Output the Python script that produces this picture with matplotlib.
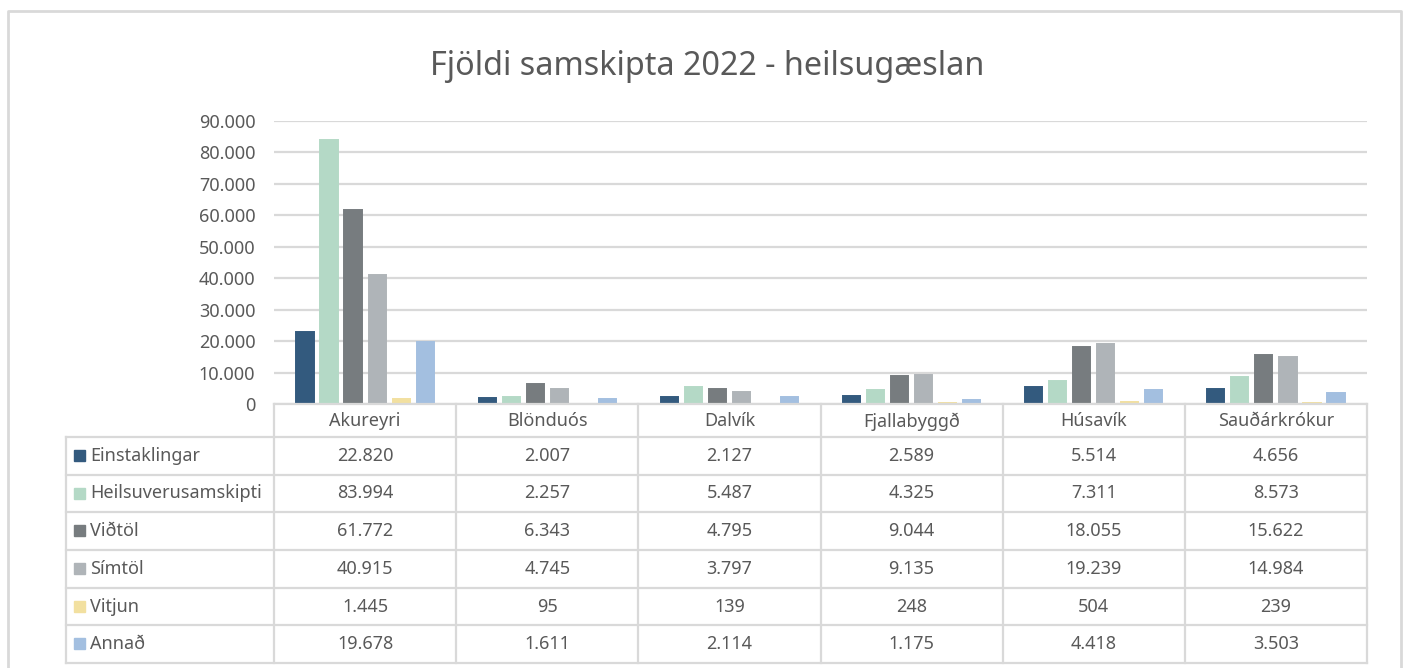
import matplotlib.pyplot as plt
from matplotlib.patches import Rectangle
import numpy as np

plt.rcParams['font.family'] = ['Noto Sans', 'DejaVu Sans']

# gögn
stadir = ['Akureyri', 'Blönduós', 'Dalvík', 'Fjallabyggð', 'Húsavík', 'Sauðárkrókur']
flokkar = ['Einstaklingar', 'Heilsuverusamskipti', 'Viðtöl', 'Símtöl', 'Vitjun', 'Annað']
einstaklingar = [22820, 2007, 2127, 2589, 5514, 4656]
heilsuvera = [83994, 2257, 5487, 4325, 7311, 8573]
vidtol = [61772, 6343, 4795, 9044, 18055, 15622]
simtol = [40915, 4745, 3797, 9135, 19239, 14984]
vitjun = [1445, 95, 139, 248, 504, 239]
annad = [19678, 1611, 2114, 1175, 4418, 3503]
gildi = [einstaklingar, heilsuvera, vidtol, simtol, vitjun, annad]
litir = ['#335A7E', '#B4D9C6', '#777C7F', '#AFB4B8', '#F2E0A0', '#A3BFE0']

grar = '#595959'
linur = '#D9D9D9'

W, H = 1405, 668
fig = plt.figure(figsize=(W / 100, H / 100), dpi=100)

x0, x1 = 274, 1367
ytop, y0 = 121, 404
ax = fig.add_axes([x0 / W, 1 - y0 / H, (x1 - x0) / W, (y0 - ytop) / H])

x = np.arange(len(stadir))
bw = 0.094
step = 0.132
for i, (nafn, vals) in enumerate(zip(flokkar, gildi)):
    # kantur í sama lit svo litlu súlurnar sjáist
    ax.bar(x + (i - 2.5) * step, vals, bw, color=litir[i], edgecolor=litir[i],
           linewidth=1.4, zorder=3)

ax.set_xlim(-0.5, 5.5)
ax.set_ylim(0, 90000)
ax.set_yticks(range(0, 90001, 10000))
ax.set_yticklabels([f'{v:,}'.replace(',', '.') for v in range(0, 90001, 10000)])
ax.yaxis.grid(True, color=linur, linewidth=1.6)
ax.set_axisbelow(True)
ax.set_xticks([])
for s in ax.spines.values():
    s.set_visible(False)
ax.tick_params(axis='y', length=0, pad=13.5, labelsize=13, labelcolor=grar)

# tafla og rammi, í pixlum
tb = fig.add_axes([0, 0, 1, 1])
tb.set_xlim(0, W)
tb.set_ylim(H, 0)
tb.axis('off')

cw = (x1 - x0) / len(stadir)
hh = 437
rh = (663 - hh) / len(flokkar)
lx = 66
lw = 1.6

tb.plot([x0, x1], [y0, y0], color=linur, lw=lw)
for k in range(len(flokkar) + 1):
    tb.plot([lx, x1], [hh + k * rh] * 2, color=linur, lw=lw)
for j in range(len(stadir) + 1):
    tb.plot([x0 + j * cw] * 2, [y0, hh + len(flokkar) * rh], color=linur, lw=lw)
tb.plot([lx, lx], [hh, hh + len(flokkar) * rh], color=linur, lw=lw)

for j, st in enumerate(stadir):
    tb.text(x0 + (j + 0.5) * cw, (y0 + hh) / 2 + 1, st, ha='center', va='center',
            fontsize=13, color=grar)

for i, (nafn, vals) in enumerate(zip(flokkar, gildi)):
    yc = hh + (i + 0.5) * rh
    tb.add_patch(Rectangle((74, yc - 6), 11, 11, color=litir[i]))
    tb.text(90, yc, nafn, ha='left', va='center', fontsize=13, color=grar)
    for j, v in enumerate(vals):
        tb.text(x0 + (j + 0.5) * cw, yc, f'{v:,}'.replace(',', '.'), ha='center',
                va='center', fontsize=13, color=grar)

# ytri rammi
tb.plot([8, 8, 1401, 1401], [H + 5, 11, 11, H + 5], color=linur, lw=2, clip_on=False)

tb.text(707, 75, 'Fjöldi samskipta 2022 - heilsugæslan', ha='center', va='baseline',
        fontsize=23.3, color=grar)

fig.savefig('out.png', dpi=100)
